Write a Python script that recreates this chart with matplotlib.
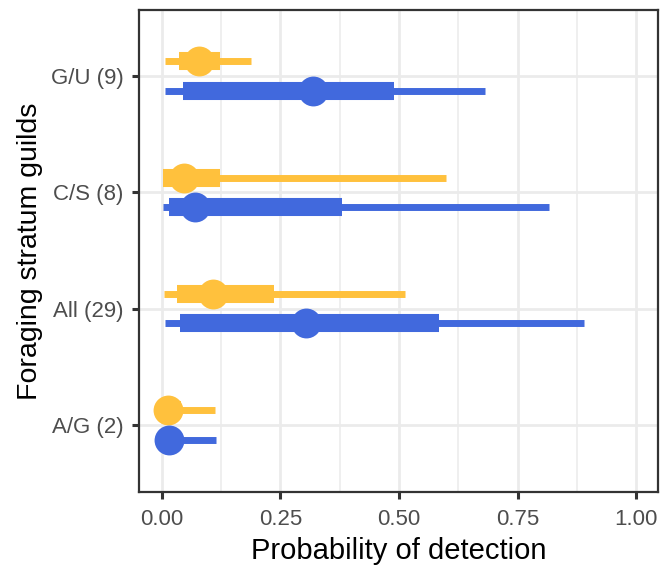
import matplotlib
matplotlib.use("Agg")
import matplotlib.pyplot as plt
import numpy as np

plt.rcParams['font.family'] = ['Liberation Sans', 'DejaVu Sans']

categories = ["A/G (2)", "All (29)", "C/S (8)", "G/U (9)"]
series_names = ["yellow", "blue"]

# yellow series
y_point = [0.014, 0.109, 0.046, 0.079]
y_lo95 = [0.002, 0.005, 0.002, 0.007]
y_hi95 = [0.112, 0.512, 0.599, 0.188]
y_lo50 = [0.004, 0.033, 0.003, 0.037]
y_hi50 = [0.040, 0.237, 0.123, 0.123]

# blue series
b_point = [0.015, 0.304, 0.069, 0.318]
b_lo95 = [0.002, 0.007, 0.002, 0.007]
b_hi95 = [0.114, 0.891, 0.817, 0.682]
b_lo50 = [0.004, 0.039, 0.016, 0.044]
b_hi50 = [0.040, 0.585, 0.379, 0.490]

xticks = [0.0, 0.25, 0.5, 0.75, 1.0]
xticklabels = ["0.00", "0.25", "0.50", "0.75", "1.00"]

yellow = "#FFC13D"
blue = "#4169DD"

fig = plt.figure(figsize=(6.7, 5.66), dpi=100)
ax = fig.add_axes([139/670, 1-492/566, (658-139)/670, (492-10)/566])

ypos = np.arange(1, len(categories) + 1)
off = 0.125

ax.set_xlim(-0.048, 1.046)
ax.set_ylim(0.424, 4.567)

# grid
for xm in [0.125, 0.375, 0.625, 0.875]:
    ax.axvline(xm, color="#EBEBEB", lw=1.1, zorder=0)
for xm in xticks:
    ax.axvline(xm, color="#EBEBEB", lw=2.0, zorder=0)
for yp in ypos:
    ax.axhline(yp, color="#EBEBEB", lw=2.0, zorder=0)

for vals, col, sgn in [((y_point, y_lo95, y_hi95, y_lo50, y_hi50), yellow, 1),
                       ((b_point, b_lo95, b_hi95, b_lo50, b_hi50), blue, -1)]:
    pt, lo95, hi95, lo50, hi50 = vals
    yy = ypos + sgn * off
    ax.hlines(yy, lo95, hi95, color=col, lw=5.0, zorder=2, capstyle='butt')
    ax.hlines(yy, lo50, hi50, color=col, lw=13.0, zorder=3, capstyle='butt')
    ax.plot(pt, yy, 'o', color=col, ms=21.5, mec='none', zorder=4)

ax.set_xticks(xticks)
ax.set_xticklabels(xticklabels)
ax.set_yticks(ypos)
ax.set_yticklabels(categories)
ax.tick_params(axis='both', length=5, width=2.2, color="#333333",
               labelsize=16, labelcolor="#4D4D4D")
ax.tick_params(axis='x', pad=7)
ax.tick_params(axis='y', pad=6)

for sp in ax.spines.values():
    sp.set_color("#333333")
    sp.set_linewidth(1.6)

ax.set_xlabel("Probability of detection", fontsize=21, color="black", labelpad=5)
ax.set_ylabel("Foraging stratum guilds", fontsize=20.5, color="black", labelpad=6)

fig.savefig("out.png", dpi=100)
